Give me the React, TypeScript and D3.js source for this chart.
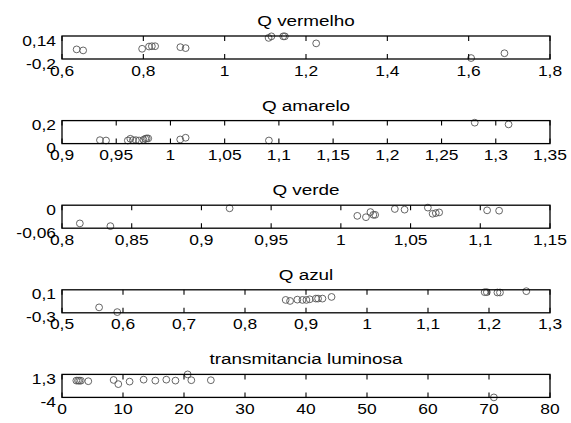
import React from "react";
import * as d3 from "d3";

const W = 571;
const H = 423;

// ---- data ----
const vermelhoX = [0.636, 0.652, 0.797, 0.814, 0.821, 0.829, 0.891, 0.904, 1.108, 1.115, 1.144, 1.148, 1.225, 1.606, 1.688];
const vermelhoY = [-0.058, -0.073, -0.049, -0.016, -0.011, -0.011, -0.025, -0.039, 0.112, 0.135, 0.135, 0.135, 0.031, -0.186, -0.115];

const amareloX = [0.935, 0.9406, 0.9607, 0.963, 0.9654, 0.9681, 0.9711, 0.9751, 0.9768, 0.9781, 0.9795, 1.009, 1.014, 1.0908, 1.2806, 1.3118];
const amareloY = [0.03, 0.027, 0.027, 0.042, 0.03, 0.03, 0.027, 0.033, 0.042, 0.045, 0.045, 0.036, 0.051, 0.027, 0.182, 0.167];

const verdeX = [0.8128, 0.8347, 0.9202, 1.0118, 1.018, 1.0212, 1.0233, 1.0246, 1.0387, 1.0457, 1.0624, 1.0658, 1.0681, 1.0705, 1.1049, 1.1135];
const verdeY = [-0.0475, -0.0546, -0.0081, -0.0278, -0.0313, -0.0179, -0.0251, -0.0251, -0.0099, -0.0116, -0.0063, -0.0224, -0.0206, -0.0188, -0.0134, -0.0143];

const azulX = [0.5608, 0.5906, 0.8667, 0.8739, 0.8858, 0.8942, 0.9007, 0.9061, 0.9162, 0.9198, 0.927, 0.9419, 1.1929, 1.1965, 1.2138, 1.218, 1.2612];
const azulY = [-0.206, -0.288, -0.076, -0.094, -0.071, -0.076, -0.076, -0.065, -0.053, -0.053, -0.053, -0.024, 0.059, 0.059, 0.053, 0.053, 0.076];

const transX = [2.35, 2.62, 2.84, 3.1, 4.31, 8.46, 9.23, 11.08, 13.38, 15.3, 17.1, 18.6, 20.6, 21.2, 24.4, 70.8];
const transY = [-0.13, -0.13, -0.15, -0.15, -0.27, 0.02, -0.94, -0.36, 0.09, -0.13, 0.09, -0.13, 1.3, -0.04, -0.04, -4.0];

const titles = ["Q vermelho", "Q amarelo", "Q verde", "Q azul", "transmitancia luminosa"];

const vermelhoXTicks = [0.6, 0.8, 1, 1.2, 1.4, 1.6, 1.8];
const vermelhoXLabels = ["0,6", "0,8", "1", "1,2", "1,4", "1,6", "1,8"];
const vermelhoYTicks = [-0.2, 0.14];
const vermelhoYLabels = ["-0,2", "0,14"];

const amareloXTicks = [0.9, 0.95, 1, 1.05, 1.1, 1.15, 1.2, 1.25, 1.3, 1.35];
const amareloXLabels = ["0,9", "0,95", "1", "1,05", "1,1", "1,15", "1,2", "1,25", "1,3", "1,35"];
const amareloYTicks = [0, 0.2];
const amareloYLabels = ["0", "0,2"];

const verdeXTicks = [0.8, 0.85, 0.9, 0.95, 1, 1.05, 1.1, 1.15];
const verdeXLabels = ["0,8", "0,85", "0,9", "0,95", "1", "1,05", "1,1", "1,15"];
const verdeYTicks = [-0.06, 0];
const verdeYLabels = ["-0,06", "0"];

const azulXTicks = [0.5, 0.6, 0.7, 0.8, 0.9, 1, 1.1, 1.2, 1.3];
const azulXLabels = ["0,5", "0,6", "0,7", "0,8", "0,9", "1", "1,1", "1,2", "1,3"];
const azulYTicks = [-0.3, 0.1];
const azulYLabels = ["-0,3", "0,1"];

const transXTicks = [0, 10, 20, 30, 40, 50, 60, 70, 80];
const transXLabels = ["0", "10", "20", "30", "40", "50", "60", "70", "80"];
const transYTicks = [-4, 1.3];
const transYLabels = ["-4", "1,3"];

const panels = [
  { title: titles[0], xs: vermelhoX, ys: vermelhoY, xt: vermelhoXTicks, xl: vermelhoXLabels, yt: vermelhoYTicks, yl: vermelhoYLabels },
  { title: titles[1], xs: amareloX, ys: amareloY, xt: amareloXTicks, xl: amareloXLabels, yt: amareloYTicks, yl: amareloYLabels },
  { title: titles[2], xs: verdeX, ys: verdeY, xt: verdeXTicks, xl: verdeXLabels, yt: verdeYTicks, yl: verdeYLabels },
  { title: titles[3], xs: azulX, ys: azulY, xt: azulXTicks, xl: azulXLabels, yt: azulYTicks, yl: azulYLabels },
  { title: titles[4], xs: transX, ys: transY, xt: transXTicks, xl: transXLabels, yt: transYTicks, yl: transYLabels },
];

const LEFT = 62;
const RIGHT = 550;
const TOP0 = 36;
const STEP = 84.6;
const PH = 23;
const FONT = "Liberation Sans, Arial, Helvetica, sans-serif";
const TICKFS = 15;
const TICKSX = 1.16;
const TITLEFS = 15.5;
const TITLESX = 1.22;

function SText({ x, y, sx, fs, anchor, children, baseline }: any) {
  return (
    <text
      transform={`translate(${x},${y}) scale(${sx},1)`}
      textAnchor={anchor}
      dominantBaseline={baseline}
      fontSize={fs}
      fontFamily={FONT}
      fill="#000"
    >
      {children}
    </text>
  );
}

function Panel({ p, i }: { p: (typeof panels)[number]; i: number }) {
  const top = TOP0 + i * STEP;
  const bottom = top + PH;
  const x = d3.scaleLinear().domain([p.xt[0], p.xt[p.xt.length - 1]]).range([LEFT, RIGHT]);
  const y = d3.scaleLinear().domain([p.yt[0], p.yt[1]]).range([bottom, top]);
  return (
    <g>
      <SText x={(LEFT + RIGHT) / 2} y={top - 10} sx={TITLESX} fs={TITLEFS} anchor="middle">
        {p.title}
      </SText>
      {p.xs.map((v, k) => (
        <circle key={k} cx={x(v)} cy={y(p.ys[k])} r={3.4} fill="none" stroke="#555" strokeWidth={0.9} />
      ))}
      {p.xt.map((t, k) => (
        <g key={k}>
          <line x1={x(t)} x2={x(t)} y1={bottom} y2={bottom - 5} stroke="#000" strokeWidth={1.1} />
          <line x1={x(t)} x2={x(t)} y1={top} y2={top + 5} stroke="#000" strokeWidth={1.1} />
          <SText x={x(t)} y={bottom + 16.5} sx={TICKSX} fs={TICKFS} anchor="middle">
            {p.xl[k]}
          </SText>
        </g>
      ))}
      {p.yt.map((t, k) => (
        <SText key={k} x={LEFT - 6} y={y(t) + 4} sx={TICKSX} fs={TICKFS} anchor="end" baseline="central">
          {p.yl[k]}
        </SText>
      ))}
      <rect x={LEFT} y={top} width={RIGHT - LEFT} height={PH} fill="none" stroke="#000" strokeWidth={1.3} />
    </g>
  );
}

export default function App() {
  return (
    <svg width={W} height={H} style={{ position: "absolute", left: 0, top: 0, background: "#fff" }}>
      <rect x={0} y={0} width={W} height={H} fill="#fff" />
      {panels.map((p, i) => (
        <Panel key={i} p={p} i={i} />
      ))}
    </svg>
  );
}
